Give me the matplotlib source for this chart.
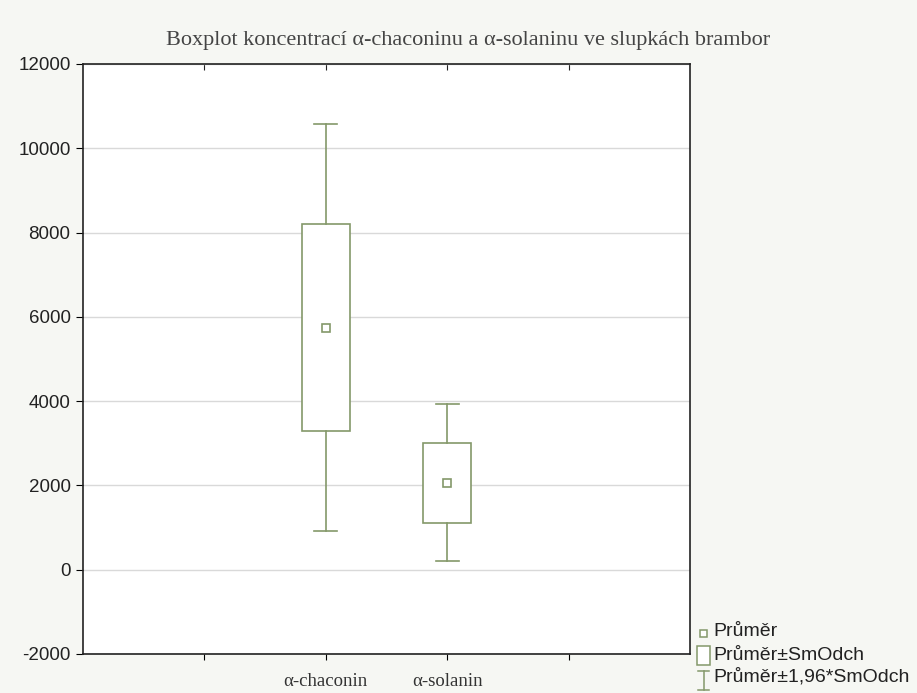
import matplotlib
matplotlib.use("Agg")
import matplotlib.pyplot as plt
from matplotlib.patches import Rectangle
from matplotlib.lines import Line2D

plt.rcParams["axes.unicode_minus"] = False

categories = ["α-chaconin", "α-solanin"]
means = [5745, 2060]
sds = [2460, 950]
z_factor = 1.96

positions = [2, 3]
green = "#84986a"
bg = "#f6f7f3"
serif = ["Liberation Serif", "DejaVu Serif"]
sans = ["Liberation Sans", "DejaVu Sans"]

fig = plt.figure(figsize=(9.17, 6.93), dpi=100, facecolor=bg)
ax = fig.add_axes([83/917, 1-654/693, (690-83)/917, (654-64)/693])
ax.set_facecolor("white")

ax.set_xlim(0, 5)
ax.set_ylim(-2000, 12000)
ax.set_yticks(range(-2000, 12001, 2000))
ax.yaxis.grid(True, color="#d9d9d9", linewidth=1)
ax.set_axisbelow(True)

box_w = 0.40
cap_w = 0.19
for p, m, s in zip(positions, means, sds):
    lo, hi = m - s, m + s
    wlo, whi = m - z_factor * s, m + z_factor * s
    ax.add_patch(Rectangle((p - box_w/2, lo), box_w, hi - lo, facecolor="white",
                           edgecolor=green, linewidth=1.2, zorder=3))
    ax.plot([p, p], [hi, whi], color=green, lw=1.2, zorder=3)
    ax.plot([p, p], [wlo, lo], color=green, lw=1.2, zorder=3)
    ax.plot([p - cap_w/2, p + cap_w/2], [whi, whi], color=green, lw=1.2, zorder=3)
    ax.plot([p - cap_w/2, p + cap_w/2], [wlo, wlo], color=green, lw=1.2, zorder=3)
    ax.plot([p], [m], marker="s", ms=6, mfc="white", mec=green, mew=1.2, zorder=4)

ax.set_xticks([1, 2, 3, 4])
ax.set_xticklabels(["", categories[0], categories[1], ""], fontfamily=serif,
                   fontsize=13.5, color="#333333")
ax.tick_params(axis="x", direction="out", length=4, pad=10)
ax.tick_params(axis="y", direction="out", length=5, pad=4, labelsize=13.5, colors="black")
for lbl in ax.get_yticklabels():
    lbl.set_fontfamily(sans)
    lbl.set_color("#222222")
sec = ax.secondary_xaxis("top")
sec.set_xticks([1, 2, 3, 4])
sec.tick_params(direction="in", length=4, labeltop=False, color="#222222")
sec.spines["top"].set_visible(False)
for sp in ax.spines.values():
    sp.set_color("#222222")
    sp.set_linewidth(1.2)

fig.text(468/917, 1-40/693, "Boxplot koncentrací α-chaconinu a α-solaninu ve slupkách brambor",
         ha="center", va="center", fontfamily=serif, fontsize=16, color="#444444")

# legend (drawn in figure pixel coordinates)
def fx(x):
    return x / 917
def fy(y):
    return 1 - y / 693

fig.patches.append(Rectangle((fx(700), fy(637)), 7/917, 7/693, transform=fig.transFigure,
                             facecolor="white", edgecolor=green, lw=1.1))
fig.patches.append(Rectangle((fx(697), fy(665)), 13/917, 19/693, transform=fig.transFigure,
                             facecolor="white", edgecolor=green, lw=1.1))
fig.lines.append(Line2D([fx(703.5), fx(703.5)], [fy(671), fy(690)], transform=fig.transFigure,
                        color=green, lw=1.1))
fig.lines.append(Line2D([fx(698), fx(709)], [fy(671), fy(671)], transform=fig.transFigure,
                        color=green, lw=1.1))
fig.lines.append(Line2D([fx(698), fx(709)], [fy(690), fy(690)], transform=fig.transFigure,
                        color=green, lw=1.1))
leg_labels = ["Průměr", "Průměr±SmOdch", "Průměr±1,96*SmOdch"]
for y, t in zip([632, 655, 677], leg_labels):
    fig.text(fx(713), fy(y), t, ha="left", va="center", fontfamily=sans,
             fontsize=14, color="#222222")

fig.savefig("out.png", dpi=100, facecolor=bg)
